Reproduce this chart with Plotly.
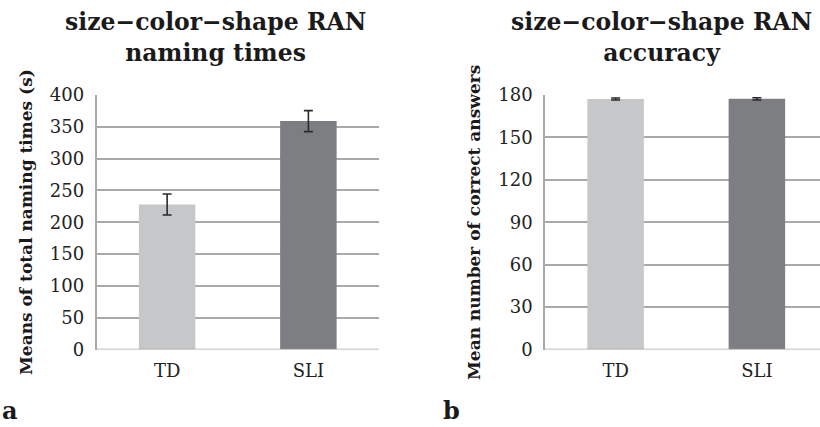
import plotly.graph_objects as go

groups = ["TD", "SLI"]
naming_means = [228, 359]
naming_err = [16.5, 16.5]
accuracy_means = [177.2, 177.3]
accuracy_err = [0.7, 0.8]
bar_colors = ["#c6c7c9", "#7d7e82"]

W, H = 820, 427
FONT = "DejaVu Serif"
GRID = "#a9a9a9"

def px_x(v):
    return v / W

def px_y(v):
    return 1 - v / H

fig = go.Figure()

fig.add_trace(go.Bar(
    x=[0, 1], y=naming_means, width=0.4,
    marker=dict(color=bar_colors, line=dict(width=0)),
    error_y=dict(type="data", array=naming_err, color="#2b2b2b", thickness=1.6, width=4.5),
    xaxis="x", yaxis="y", showlegend=False, hoverinfo="skip",
))
fig.add_trace(go.Bar(
    x=[0, 1], y=accuracy_means, width=0.4,
    marker=dict(color=bar_colors, line=dict(width=0)),
    error_y=dict(type="data", array=accuracy_err, color="#2b2b2b", thickness=1.6, width=4.5),
    xaxis="x2", yaxis="y2", showlegend=False, hoverinfo="skip",
))

ydom = [px_y(349.5), px_y(95)]
left_dom = [px_x(96.5), px_x(379)]
right_dom = [px_x(545), 1.0]
cat_px = (379 - 96.5) / 2.0
right_range = [-0.5, -0.5 + (820 - 545) / cat_px]

tickfont = dict(family=FONT, size=18, color="#222")

fig.update_layout(
    width=W, height=H,
    margin=dict(l=0, r=0, t=0, b=0, autoexpand=False),
    paper_bgcolor="white", plot_bgcolor="white",
    xaxis=dict(domain=left_dom, range=[-0.5, 1.5], tickvals=[0, 1], ticktext=groups,
               showgrid=False, zeroline=False, showline=False, ticks="", automargin=False,
               tickfont=tickfont, ticklabelstandoff=8, fixedrange=True),
    yaxis=dict(domain=ydom, range=[0, 400], tickvals=list(range(0, 401, 50)),
               showgrid=True, gridcolor=GRID, gridwidth=1.6, zeroline=False, automargin=False,
               showline=True, linecolor=GRID, linewidth=1.6, ticks="",
               tickfont=tickfont, ticklabelstandoff=7, anchor="x"),
    xaxis2=dict(domain=right_dom, range=right_range, tickvals=[0, 1], ticktext=groups,
                showgrid=False, zeroline=False, showline=False, ticks="", automargin=False,
                tickfont=tickfont, ticklabelstandoff=8, anchor="y2"),
    yaxis2=dict(domain=ydom, range=[0, 180], tickvals=list(range(0, 181, 30)),
                showgrid=True, gridcolor=GRID, gridwidth=1.6, zeroline=False, automargin=False,
                showline=True, linecolor=GRID, linewidth=1.6, ticks="",
                tickfont=tickfont, ticklabelstandoff=7, anchor="x2"),
)

for xr, yr, xmax in [("x", "y", 1.5), ("x2", "y2", right_range[1])]:
    fig.add_shape(type="line", xref=xr, yref=yr, x0=-0.5, x1=xmax, y0=0, y1=0,
                  line=dict(color=GRID, width=1.6))

title_font = dict(family=FONT, size=23.5, color="#1a1a1a")
anns = [
    dict(text="<b>size−color−shape RAN<br>naming times</b>", x=px_x(215), y=px_y(38)),
    dict(text="<b>size−color−shape RAN<br>accuracy</b>", x=px_x(661), y=px_y(38)),
]
for a in anns:
    fig.add_annotation(text=a["text"], x=a["x"], y=a["y"], xref="paper", yref="paper",
                       showarrow=False, xanchor="center", yanchor="middle",
                       font=title_font, align="center")

ytitle_font = dict(family=FONT, size=17, color="#1a1a1a")
fig.add_annotation(text="<b>Means of total naming times (s)</b>", x=px_x(26), y=px_y(222),
                   xref="paper", yref="paper", showarrow=False, textangle=-90,
                   xanchor="center", yanchor="middle", font=ytitle_font)
fig.add_annotation(text="<b>Mean number of correct answers</b>", x=px_x(474), y=px_y(222),
                   xref="paper", yref="paper", showarrow=False, textangle=-90,
                   xanchor="center", yanchor="middle", font=ytitle_font)

panel_font = dict(family=FONT, size=24, color="#1a1a1a")
fig.add_annotation(text="<b>a</b>", x=px_x(0), y=px_y(410), xref="paper", yref="paper",
                   showarrow=False, xanchor="left", yanchor="middle", font=panel_font)
fig.add_annotation(text="<b>b</b>", x=px_x(441), y=px_y(410), xref="paper", yref="paper",
                   showarrow=False, xanchor="left", yanchor="middle", font=panel_font)

fig.write_html("out.html", config={"displayModeBar": False},
               post_script="document.body.style.margin='0';document.body.style.overflow='hidden';")
